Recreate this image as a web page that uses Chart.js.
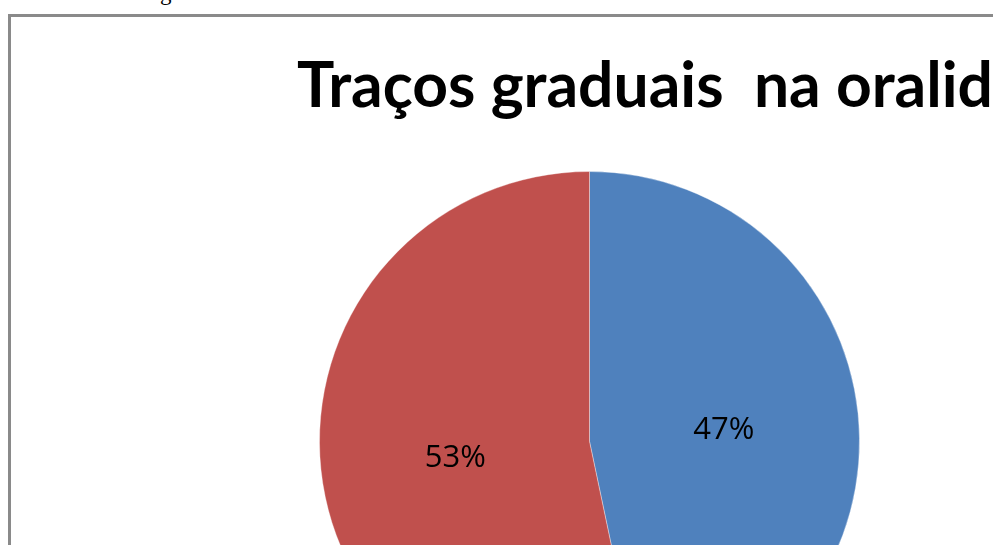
<!DOCTYPE html>
<html>
<head>
<meta charset="utf-8">
<script src="https://cdn.jsdelivr.net/npm/chart.js@4.4.1/dist/chart.umd.min.js"></script>
<style>
    body { margin: 0; background: #fff; overflow: hidden; width: 993px; height: 545px; position: relative; }
    #frame { position: absolute; left: 8px; top: 14px; width: 1200px; height: 700px; border: 3px solid #8a8a8a; box-sizing: border-box; }
    #myChart { position: absolute; left: 0; top: 0; }
    #above { position: absolute; left: 160px; top: -19px; font: 23px/23px "Liberation Serif", serif; color: #000; }
</style>
</head>
<body>
<div id="above">g</div>
<div id="frame"></div>
<canvas id="myChart" width="1200" height="800" style="width:1200px;height:800px"></canvas>
<script>
var titleText = 'Traços graduais  na oralidade';
var categories = ['Sim', 'Não'];
var values = [46.7, 53.3];
var colors = ['#4F81BD', '#C0504D'];

var data1 = {
    labels: categories,
    datasets: [
        {
            data: values,
            backgroundColor: colors,
            borderColor: 'rgba(255, 255, 255, 0.35)',
            borderWidth: 1
        }
    ]
};

// titulo desenhado a mao (Calibri nao existe aqui, comprimo o Lato)
var titlePlugin = {
    id: 'titleDraw',
    afterDraw: function(chart) {
        var ctx = chart.ctx;
        ctx.save();
        ctx.font = 'bold 63px Lato';
        var w = ctx.measureText('Traços graduais  na oralid').width;
        var sx = 696 / w;
        ctx.fillStyle = '#000';
        ctx.textAlign = 'left';
        ctx.textBaseline = 'alphabetic';
        ctx.translate(297, 107);
        ctx.scale(sx, 1);
        ctx.fillText(titleText, 0, 0);
        ctx.restore();
    }
};

var labelPlugin = {
    id: 'pctLabels',
    afterDatasetsDraw: function(chart) {
        var ctx = chart.ctx;
        var meta = chart.getDatasetMeta(0);
        var total = values.reduce(function(a, b) { return a + b; }, 0);
        ctx.save();
        ctx.font = '31px "Open Sans"';
        ctx.fillStyle = '#000';
        ctx.textAlign = 'center';
        ctx.textBaseline = 'middle';
        meta.data.forEach(function(arc, i) {
            var p = arc.tooltipPosition();
            ctx.fillText(Math.round(values[i] / total * 100) + '%', p.x, p.y + 3);
        });
        ctx.restore();
    }
};

var options = {
    responsive: false,
    animation: false,
    layout: {
        padding: { top: 171, bottom: 88, left: 319, right: 340 }
    },
    plugins: {
        legend: { display: false },
        tooltip: { enabled: false },
        title: { display: false }
    }
};

var ctx1 = document.getElementById('myChart').getContext('2d');
var myPieChart = new Chart(ctx1, {
    type: 'pie',
    data: data1,
    options: options,
    plugins: [labelPlugin, titlePlugin]
});
</script>
</body>
</html>
